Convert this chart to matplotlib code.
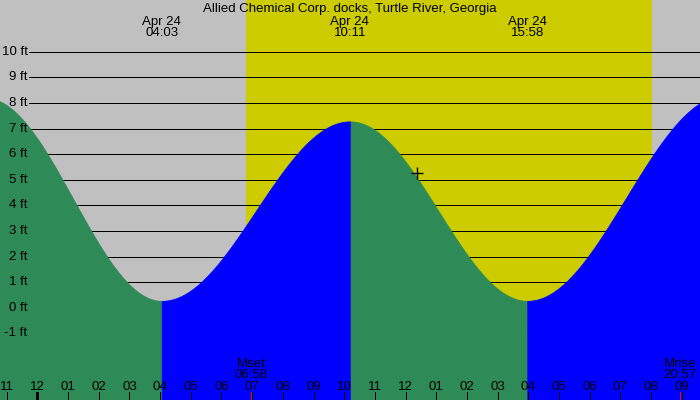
import numpy as np
import matplotlib
matplotlib.use("Agg")
import matplotlib.pyplot as plt

plt.rcParams['font.family'] = ['Liberation Sans', 'DejaVu Sans']

title = "Allied Chemical Corp. docks, Turtle River, Georgia"

# tide extremes (hours from midnight Apr 24) and heights (ft)
tide_times = [-1.70, 4.05, 10.183, 15.967, 22.40]
tide_heights = [8.2, 0.27, 7.28, 0.27, 8.3]
extreme_labels = ["", "Apr 24\n04:03", "Apr 24\n10:11", "Apr 24\n15:58", ""]

# daylight
sunrise = 6.79
sunset = 20.02

# moon events
moon_times = [6.967, 20.95]
moon_labels = ["Mset\n06:58", "Mrise\n20:57"]

# current marker
now_time = 12.38
now_height = 5.25

# axes
hour_ticks = list(range(-1, 22))
hour_labels = ["11", "12", "01", "02", "03", "04", "05", "06", "07", "08", "09", "10",
               "11", "12", "01", "02", "03", "04", "05", "06", "07", "08", "09"]
ft_levels = [-1, 0, 1, 2, 3, 4, 5, 6, 7, 8, 9, 10]
ft_labels = ["-1 ft", "0 ft", "1 ft", "2 ft", "3 ft", "4 ft", "5 ft", "6 ft",
             "7 ft", "8 ft", "9 ft", "10 ft"]

GRAY = "#c0c0c0"
YELLOW = "#cccc00"
GREEN = "#2e8b57"
BLUE = "#0000ff"
FS = 9.5
PX = 0.72  # one pixel in points at 100 dpi

fig = plt.figure(figsize=(7, 4), dpi=100)
ax = fig.add_axes([0, 0, 1, 1])
ax.set_facecolor(GRAY)
xmin, xmax = -1.219, 21.597
ymin, ymax = -3.605, 12.02
ax.set_xlim(xmin, xmax)
ax.set_ylim(ymin, ymax)
for s in ax.spines.values():
    s.set_visible(False)
ax.set_xticks([])
ax.set_yticks([])

# daylight band
ax.axvspan(sunrise, sunset, color=YELLOW, zorder=0, lw=0)

# gridlines
ax.hlines(ft_levels, xmin + (xmax - xmin) * 29.3 / 700, xmax, colors="black",
          linewidth=PX, zorder=1, antialiased=False)

# tide curve between extremes (cosine shape), filled green (falling) / blue (rising)
for i in range(len(tide_times) - 1):
    t0, t1 = tide_times[i], tide_times[i + 1]
    h0, h1 = tide_heights[i], tide_heights[i + 1]
    t = np.linspace(t0, t1, 300)
    h = h1 + (h0 - h1) * (1 + np.cos(np.pi * (t - t0) / (t1 - t0))) / 2
    color = GREEN if h1 < h0 else BLUE
    ax.fill_between(t, ymin, h, facecolor=color, edgecolor=color, lw=0.5,
                    zorder=2 + (0.1 if color == BLUE else 0), antialiased=False)

# y labels
for lv, lab in zip(ft_levels, ft_labels):
    ax.text(27.5 / 700, lv, lab, transform=ax.get_yaxis_transform(),
            ha="right", va="center", fontsize=FS, zorder=5)

# bottom ticks and labels
tr = ax.get_xaxis_transform()
for hr, lab in zip(hour_ticks, hour_labels):
    w = 3 * PX if hr == 0 else PX
    ax.vlines(hr, 0, 8 / 400, transform=tr, colors="black", linewidth=w, zorder=4,
              antialiased=False)
    ax.text(hr, 1 - 390 / 400, lab, transform=tr, ha="center", va="baseline",
            fontsize=FS, zorder=5)

# moon events
for mt, ml in zip(moon_times, moon_labels):
    ax.vlines(mt, 0, 8 / 400, transform=tr, colors="red", linewidth=PX, zorder=4,
              antialiased=False)
    l1, l2 = ml.split("\n")
    ax.text(mt, 1 - 367 / 400, l1, transform=tr, ha="center", va="baseline",
            fontsize=FS, zorder=5)
    ax.text(mt, 1 - 378 / 400, l2, transform=tr, ha="center", va="baseline",
            fontsize=FS, zorder=5)

# extreme labels at top
for et, el in zip(tide_times, extreme_labels):
    if not el:
        continue
    l1, l2 = el.split("\n")
    ax.text(et, 1 - 24.5 / 400, l1, transform=tr, ha="center", va="baseline",
            fontsize=FS, zorder=5)
    ax.text(et, 1 - 36 / 400, l2, transform=tr, ha="center", va="baseline",
            fontsize=FS, zorder=5)

# title
ax.text(0.5, 1 - 12 / 400, title, transform=ax.transAxes, ha="center",
        va="baseline", fontsize=FS, zorder=5)

# current marker
ax.plot([now_time], [now_height], marker="+", color="black", markersize=8,
        markeredgewidth=1.0, zorder=6, antialiased=False)

fig.savefig("out.png", dpi=100)
